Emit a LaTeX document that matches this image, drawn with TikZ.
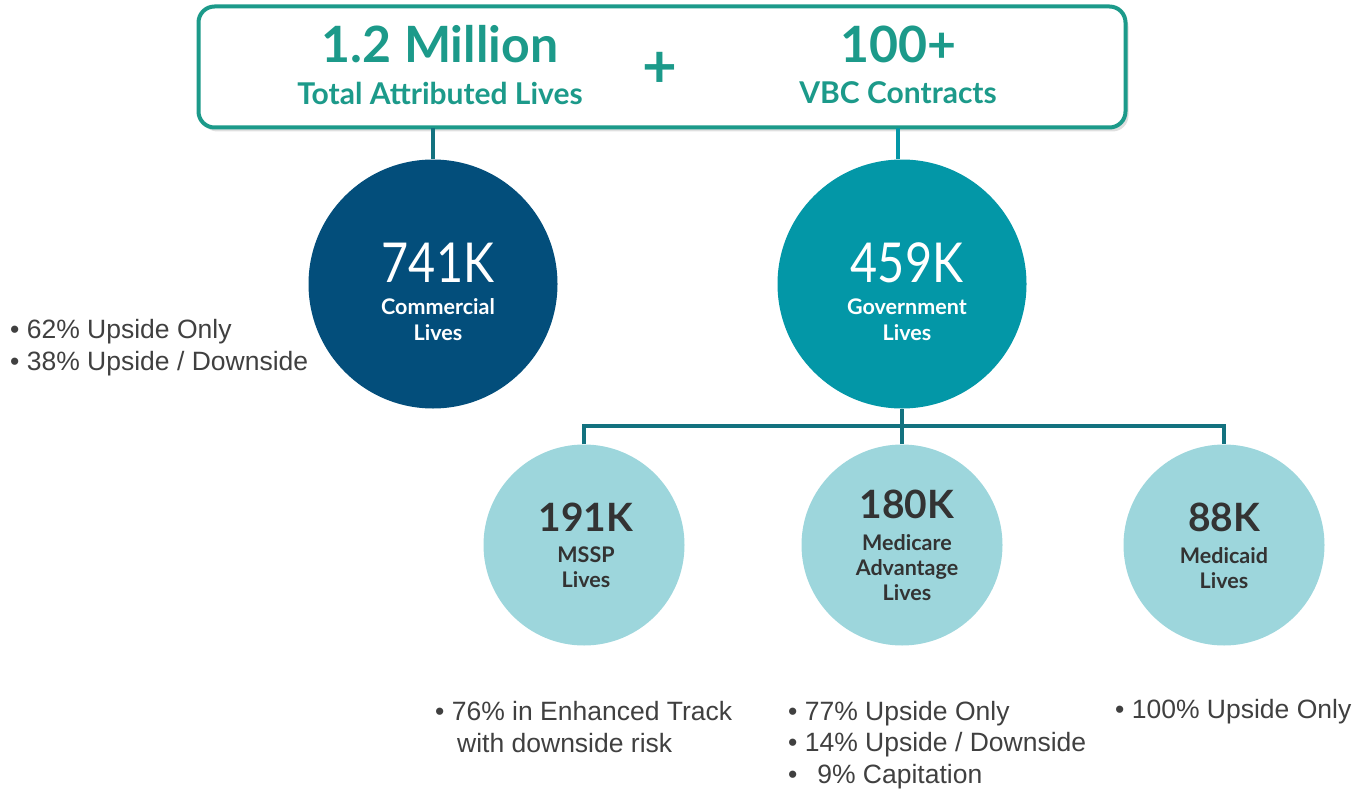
\documentclass[tikz,border=0pt]{standalone}
\usepackage{fontspec}
\setmainfont{Liberation Sans}
\newfontfamily\headfont{Lato}
\newfontfamily\numfont[FakeStretch=0.85]{Lato}
\usetikzlibrary{shadows}
\definecolor{tealhead}{HTML}{1C9A8A}
\definecolor{darkblue}{HTML}{034E7B}
\definecolor{govteal}{HTML}{0397A7}
\definecolor{lightteal}{HTML}{9DD6DC}
\definecolor{linedark}{HTML}{13727F}
\definecolor{bullettext}{HTML}{404040}
\definecolor{circtext}{HTML}{333333}
\tikzset{
  headbig/.style={anchor=base,inner sep=0pt,text=tealhead,font=\headfont\bfseries\fontsize{50}{50}\selectfont},
  headsub/.style={anchor=base,inner sep=0pt,text=tealhead,font=\headfont\bfseries\fontsize{30}{30}\selectfont},
  bignum/.style={anchor=base,inner sep=0pt,text=white,font=\numfont\fontsize{55}{55}\selectfont},
  biglab/.style={anchor=base,inner sep=0pt,text=white,font=\headfont\bfseries\fontsize{21.5}{21.5}\selectfont},
  smallnum/.style={anchor=base,inner sep=0pt,text=circtext,font=\headfont\bfseries\fontsize{39}{39}\selectfont},
  smalllab/.style={anchor=base,inner sep=0pt,text=circtext,font=\headfont\bfseries\fontsize{21.5}{21.5}\selectfont},
  bullet/.style={anchor=base west,inner sep=0pt,text=bullettext,font=\fontsize{26.5}{26.5}\selectfont},
  conn/.style={line width=3.5pt},
}
\begin{document}
\begin{tikzpicture}[x=1pt,y=-1pt]
\useasboundingbox (0,0) rectangle (1365,789);
% top box
\node[draw=tealhead,line width=4pt,rounded corners=16pt,fill=white,
  minimum width=927pt,minimum height=121pt,inner sep=0pt,
  drop shadow={opacity=0.25,shadow xshift=3pt,shadow yshift=-4pt}] (top) at (662,67) {};
\node[headbig] (mil) at (440,63) {1.2 Million};
\node[headsub] (tal) at (440,105) {Total Attributed Lives};
\node[anchor=center,inner sep=0pt,text=tealhead,font=\headfont\bfseries\fontsize{60}{60}\selectfont] (plus) at (660,70) {+};
\node[headbig] (hund) at (898,63) {100+};
\node[headsub] (vbc) at (898,104) {VBC Contracts};
% big circles
\node[circle,fill=darkblue,minimum size=249pt,inner sep=0pt] (com) at (433,284) {};
\node[circle,fill=govteal,minimum size=249pt,inner sep=0pt] (gov) at (902,284) {};
\coordinate (tl) at (433,128);
\coordinate (tr) at (898,128);
\draw[conn,draw=linedark] (tl) -- (com.north);
\draw[conn,draw=govteal] (tr) -- (tr|-gov.north);
\node[bignum] (n741) at (438,282) {741K};
\node[biglab] (c1) at (438,314) {Commercial};
\node[biglab] (c2) at (438,340) {Lives};
\node[bignum] (n459) at (907,282) {459K};
\node[biglab] (g1) at (907,314) {Government};
\node[biglab] (g2) at (907,340) {Lives};
% small circles
\node[circle,fill=lightteal,minimum size=201pt,inner sep=0pt] (mssp) at (584,545) {};
\node[circle,fill=lightteal,minimum size=201pt,inner sep=0pt] (ma) at (902,545) {};
\node[circle,fill=lightteal,minimum size=201pt,inner sep=0pt] (mcd) at (1224,545) {};
\coordinate (hub) at (902,426);
\draw[conn,draw=linedark] (gov.south) -- (hub);
\draw[conn,draw=linedark,line join=miter] (mssp.north) -- (mssp.north|-hub) -- (mcd.north|-hub) -- (mcd.north);
\draw[conn,draw=linedark] (hub) -- (ma.north);
\node[smallnum] (n191) at (586,531) {191K};
\node[smalllab] (m1) at (586,562) {MSSP};
\node[smalllab] (m2) at (586,587) {Lives};
\node[smallnum] (n180) at (907,518) {180K};
\node[smalllab] (a1) at (907,550) {Medicare};
\node[smalllab] (a2) at (907,575) {Advantage};
\node[smalllab] (a3) at (907,600) {Lives};
\node[smallnum] (n88) at (1224,531) {88K};
\node[smalllab] (d1) at (1224,563) {Medicaid};
\node[smalllab] (d2) at (1224,588) {Lives};
% bullets
\node[bullet] (b1) at (10,338) {• 62\% Upside Only};
\node[bullet] (b2) at (10,370) {• 38\% Upside / Downside};
\node[bullet] (b3) at (435,720) {• 76\% in Enhanced Track};
\node[bullet] (b4) at (457,752) {with downside risk};
\node[bullet] (b5) at (788,720) {• 77\% Upside Only};
\node[bullet] (b6) at (788,751) {• 14\% Upside / Downside};
\node[bullet] (b7) at (788,783) {•\hspace{0.75em}9\% Capitation};
\node[bullet] (b8) at (1115,718) {• 100\% Upside Only};
\end{tikzpicture}
\end{document}
